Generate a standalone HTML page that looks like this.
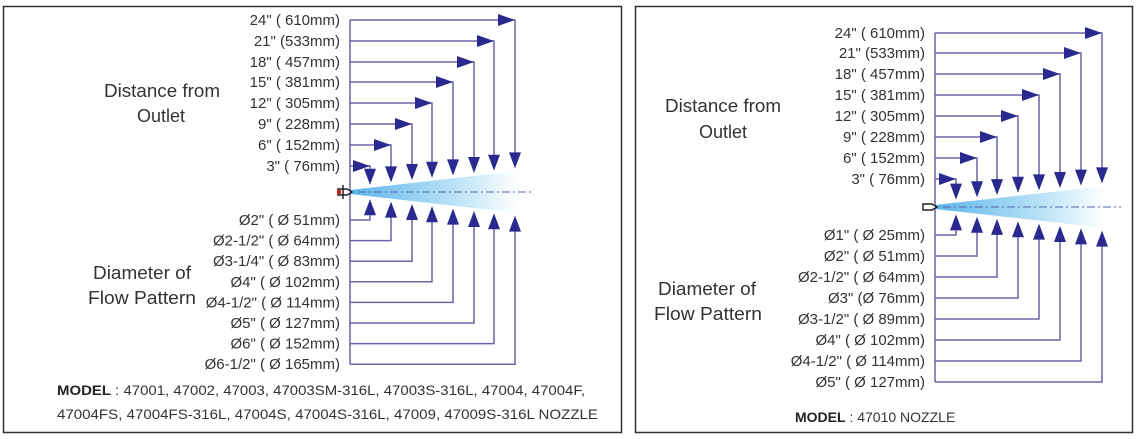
<!DOCTYPE html>
<html><head><meta charset="utf-8"><style>
html,body{margin:0;padding:0;background:#fff;}
svg{display:block;}
text{font-family:"Liberation Sans",sans-serif;fill:#333;}
</style></head><body>
<svg id="s" width="1139" height="439" viewBox="0 0 1139 439" xmlns="http://www.w3.org/2000/svg">
<defs>
<linearGradient id="g" x1="0" x2="1" y1="0" y2="0">
<stop offset="0" stop-color="#3fa9e6"/><stop offset="0.6" stop-color="#a9dbf5"/><stop offset="1" stop-color="#ffffff"/>
</linearGradient>
</defs>
<rect x="3.5" y="6.5" width="618" height="426" fill="none" stroke="#333" stroke-width="1.5"/>
<rect x="635.5" y="6.5" width="497" height="426" fill="none" stroke="#333" stroke-width="1.5"/>
<g id="d"></g>
<text x="104" y="97" font-size="18" textLength="116" lengthAdjust="spacingAndGlyphs">Distance from</text>
<text x="161" y="122" font-size="18" text-anchor="middle">Outlet</text>
<text x="93" y="279" font-size="18" textLength="98" lengthAdjust="spacingAndGlyphs">Diameter of</text>
<text x="88" y="304" font-size="18" textLength="108" lengthAdjust="spacingAndGlyphs">Flow Pattern</text>
<text x="57" y="395" font-size="14" textLength="528" lengthAdjust="spacingAndGlyphs"><tspan font-weight="bold" fill="#222">MODEL</tspan> : 47001, 47002, 47003, 47003SM-316L, 47003S-316L, 47004, 47004F,</text>
<text x="57" y="419" font-size="14" textLength="541" lengthAdjust="spacingAndGlyphs">47004FS, 47004FS-316L, 47004S, 47004S-316L, 47009,  47009S-316L NOZZLE</text>
<text x="665" y="112" font-size="18" textLength="116" lengthAdjust="spacingAndGlyphs">Distance from</text>
<text x="723" y="138" font-size="18" text-anchor="middle">Outlet</text>
<text x="658" y="295" font-size="18" textLength="98" lengthAdjust="spacingAndGlyphs">Diameter of</text>
<text x="654" y="320" font-size="18" textLength="108" lengthAdjust="spacingAndGlyphs">Flow Pattern</text>
<text x="795" y="422" font-size="14"><tspan font-weight="bold" fill="#222">MODEL</tspan> : 47010 NOZZLE</text>
</svg>
<script>
var g=document.getElementById('d');var NS='http://www.w3.org/2000/svg';
function el(t,a,txt){var e=document.createElementNS(NS,t);for(var k in a)e.setAttribute(k,a[k]);if(txt)e.textContent=txt;g.appendChild(e);return e;}
var LC='#6a64a8',AC='#2a2a8e';
function panel(o){
 var vx=o.vx,cy=o.cy,n=8;
 var ex=o.xs[n-1]+3;
 el('polygon',{points:vx+','+(cy-2)+' '+ex+','+(cy-21)+' '+ex+','+(cy+21)+' '+vx+','+(cy+2),fill:'url(#g)',opacity:'0.85'});
 el('line',{x1:vx+8,y1:cy,x2:o.cl,y2:cy,stroke:'#5566aa','stroke-width':1,'stroke-dasharray':'8 3 2 3'});
 el('line',{x1:vx,y1:o.ty[n-1],x2:vx,y2:o.by[n-1],stroke:LC,'stroke-width':1.5});
 for(var i=0;i<n;i++){
  var x=o.xs[i],ty=o.ty[i],by=o.by[i];
  var frac=(x-vx)/(ex-vx);var half=2+19*frac;
  var tipT=cy-half-3,tipB=cy+half+3;
  el('polyline',{points:vx+','+ty+' '+x+','+ty+' '+x+','+(tipT-13),fill:'none',stroke:LC,'stroke-width':1.5});
  el('polygon',{points:(x-17)+','+(ty-6)+' '+x+','+ty+' '+(x-17)+','+(ty+6),fill:AC});
  el('polygon',{points:(x-6)+','+(tipT-16)+' '+(x+6)+','+(tipT-16)+' '+x+','+tipT,fill:AC});
  el('polyline',{points:vx+','+by+' '+x+','+by+' '+x+','+(tipB+13),fill:'none',stroke:LC,'stroke-width':1.5});
  el('polygon',{points:(x-6)+','+(tipB+16)+' '+(x+6)+','+(tipB+16)+' '+x+','+tipB,fill:AC});
  el('text',{x:vx-10,y:ty+5,'font-size':15,'text-anchor':'end'},o.tl[i]);
  el('text',{x:vx-10,y:by+5,'font-size':15,'text-anchor':'end'},o.bl[i]);
 }
 el('path',{d:'M'+(vx-12)+','+(cy-3)+' L'+(vx-3)+','+(cy-3)+' L'+(vx+2)+','+cy+' L'+(vx-3)+','+(cy+3)+' L'+(vx-12)+','+(cy+3)+'Z',fill:'#fff',stroke:'#222','stroke-width':1.5});
 if(o.red){el('rect',{x:vx-13,y:cy-2,width:4,height:4,fill:'#c22'});el('line',{x1:vx-7,y1:cy-7,x2:vx-7,y2:cy+7,stroke:'#222','stroke-width':1.5});}
}
function seq(a,s){var r=[];for(var i=0;i<8;i++)r.push(Math.round((a+i*s)*10)/10);return r;}
panel({vx:350,cy:192,cl:534,red:true,
 xs:[370,391,412,432,453,474,494,515],
 ty:[166,145,124,103,82,62,41,20],
 by:seq(220,20.6),
 tl:['3" ( 76mm)','6" ( 152mm)','9" ( 228mm)','12" ( 305mm)','15" ( 381mm)','18" ( 457mm)','21" (533mm)','24" ( 610mm)'],
 bl:['Ø2" ( Ø 51mm)','Ø2-1/2" ( Ø 64mm)','Ø3-1/4" ( Ø 83mm)','Ø4" ( Ø 102mm)','Ø4-1/2" ( Ø 114mm)','Ø5" ( Ø 127mm)','Ø6" ( Ø 152mm)','Ø6-1/2" ( Ø 165mm)']});
panel({vx:935,cy:207,cl:1121,red:false,
 xs:[956,977,997,1018,1039,1060,1081,1102],
 ty:[179,158,137,116,95,74,53,33],
 by:seq(235,21),
 tl:['3" ( 76mm)','6" ( 152mm)','9" ( 228mm)','12" ( 305mm)','15" ( 381mm)','18" ( 457mm)','21" (533mm)','24" ( 610mm)'],
 bl:['Ø1" ( Ø 25mm)','Ø2" ( Ø 51mm)','Ø2-1/2" ( Ø 64mm)','Ø3" (Ø 76mm)','Ø3-1/2" ( Ø 89mm)','Ø4" ( Ø 102mm)','Ø4-1/2" ( Ø 114mm)','Ø5" ( Ø 127mm)']});
</script>
</body></html>
